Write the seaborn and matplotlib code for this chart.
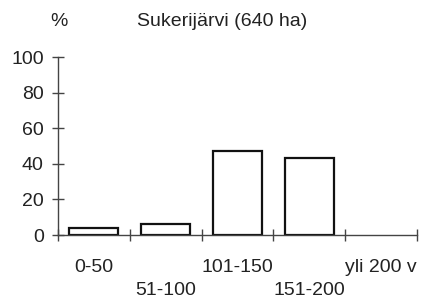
import matplotlib
matplotlib.use("Agg")
import matplotlib.pyplot as plt
import seaborn as sns
import pandas as pd

categories = ["0-50", "51-100", "101-150", "151-200", "yli 200 v"]
values = [4, 6, 47, 43, 0]
yticks = [0, 20, 40, 60, 80, 100]
title = "Sukerijärvi (640 ha)"
unit = "%"

sns.set_style("white")
plt.rcParams['font.family'] = ['Liberation Sans', 'DejaVu Sans']

df = pd.DataFrame({"cat": categories, "val": values})

fig = plt.figure(figsize=(4.26, 3.03), dpi=100)
ax = fig.add_axes([58/426, 1-235/303, (417-58)/426, (235-57)/303])

sns.barplot(data=df, x="cat", y="val", color="white", edgecolor="#111111",
            linewidth=1.6, width=0.68, ax=ax, saturation=1)
for p in ax.patches:
    if p.get_height() == 0:
        p.set_linewidth(0)

ax.set_xlim(-0.5, len(categories) - 0.5)
ax.set_ylim(0, 100)
ax.set_xlabel("")
ax.set_ylabel("")

for s in ["top", "right"]:
    ax.spines[s].set_visible(False)
for s in ["left", "bottom"]:
    ax.spines[s].set_color("#444444")
    ax.spines[s].set_linewidth(1.0)

fs = 14
# major ticks at category boundaries (no labels)
ax.set_xticks([i - 0.5 for i in range(len(categories) + 1)])
ax.set_xticklabels([])
ax.tick_params(axis="x", which="major", bottom=True, direction="inout",
               length=8.5, width=1.0, color="#444444")
# minor ticks at centres carry alternating labels
ax.set_xticks(range(len(categories)), minor=True)
labs = [c if i % 2 == 0 else "\n" + c for i, c in enumerate(categories)]
ax.set_xticklabels(labs, minor=True, fontsize=fs, color="#222222",
                   linespacing=1.5)
ax.tick_params(axis="x", which="minor", bottom=True, length=0, pad=17)

ax.set_yticks(yticks)
ax.set_yticklabels([str(t) for t in yticks], fontsize=fs, color="#222222")
ax.tick_params(axis="y", left=True, direction="inout", length=8.5, width=1.0,
               color="#444444", pad=6)

ax.text(0.003, 1.197, unit, transform=ax.transAxes, ha="center", va="center",
        fontsize=fs, color="#222222")
ax.text((222-58)/359, 1.197, title, transform=ax.transAxes, ha="center",
        va="center", fontsize=fs, color="#222222")

fig.savefig("out.png", dpi=100)
